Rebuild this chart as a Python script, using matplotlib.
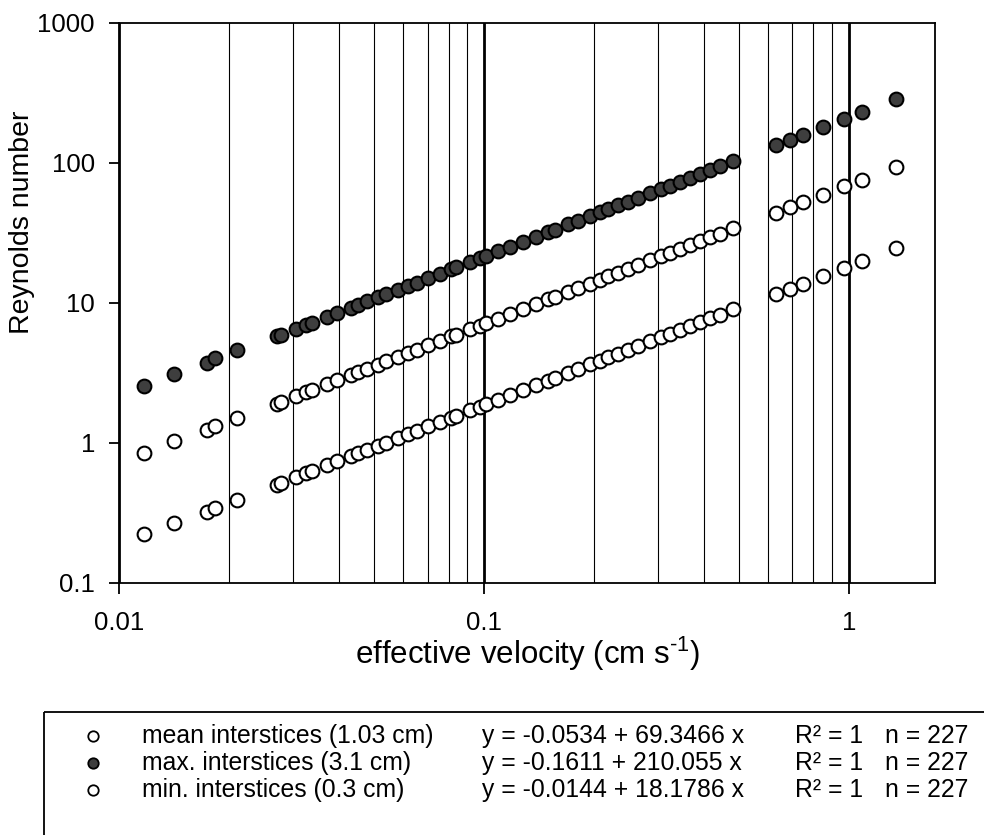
"""
Reynolds number vs effective velocity for three interstice sizes
(log-log scatter with the linear fits listed in a box under the axes).
"""

import matplotlib
matplotlib.use('Agg')
import matplotlib.pyplot as plt
from matplotlib.patches import Rectangle
from matplotlib.ticker import LogLocator, NullFormatter

plt.rcParams['font.family'] = ['Liberation Sans', 'DejaVu Sans']
plt.rcParams['mathtext.fontset'] = 'custom'
plt.rcParams['mathtext.rm'] = 'Liberation Sans'
plt.rcParams['mathtext.it'] = 'Liberation Sans:italic'

# ─── DATA ────────────────────────────────────────────────────────────────────
velocity = [0.0117, 0.0141, 0.0174, 0.0183, 0.0210,
            0.0270, 0.0277, 0.0306, 0.0326, 0.0337, 0.0370, 0.0396, 0.0433, 0.0452, 0.0478,
            0.0512, 0.0540, 0.0581, 0.0619, 0.0653, 0.0702, 0.0756, 0.0814, 0.0840, 0.0914,
            0.0973, 0.1011, 0.1092, 0.1180, 0.1279, 0.1392, 0.1497, 0.1562, 0.1699, 0.1809,
            0.1948, 0.2075, 0.2187, 0.2329, 0.2481, 0.2642, 0.2844, 0.3062, 0.3227, 0.3438,
            0.3661, 0.3899, 0.4153, 0.4423, 0.4811,
            0.630, 0.692, 0.751, 0.849, 0.973, 1.088, 1.343]

re_mean = [0.848, 1.03, 1.23, 1.32, 1.51,
           1.90, 1.95, 2.16, 2.30, 2.38, 2.61, 2.79, 3.05, 3.19, 3.37,
           3.61, 3.81, 4.10, 4.36, 4.60, 4.95, 5.33, 5.74, 5.92, 6.44,
           6.86, 7.13, 7.70, 8.32, 9.02, 9.81, 10.6, 11.0, 12.0, 12.8,
           13.7, 14.6, 15.4, 16.4, 17.5, 18.6, 20.1, 21.6, 22.8, 24.2,
           25.8, 27.5, 29.3, 31.2, 33.9,
           43.9, 48.2, 52.3, 59.2, 67.8, 75.8, 93.6]

re_max = [2.54, 3.10, 3.73, 4.01, 4.59,
          5.75, 5.90, 6.52, 6.94, 7.18, 7.88, 8.43, 9.22, 9.63, 10.2,
          10.9, 11.5, 12.4, 13.2, 13.9, 15.0, 16.1, 17.3, 17.9, 19.5,
          20.7, 21.5, 23.3, 25.1, 27.2, 29.6, 31.9, 33.3, 36.2, 38.5,
          41.5, 44.2, 46.6, 49.6, 52.8, 56.3, 60.6, 65.2, 68.7, 73.2,
          78.0, 83.0, 88.5, 94.2, 102.5,
          133, 146, 158, 179, 205, 230, 283]

re_min = [0.222, 0.268, 0.321, 0.343, 0.390,
          0.502, 0.515, 0.569, 0.606, 0.627, 0.688, 0.737, 0.805, 0.841, 0.889,
          0.952, 1.00, 1.08, 1.15, 1.21, 1.31, 1.41, 1.51, 1.56, 1.70,
          1.81, 1.88, 2.03, 2.19, 2.38, 2.59, 2.78, 2.91, 3.16, 3.36,
          3.62, 3.86, 4.07, 4.33, 4.61, 4.91, 5.29, 5.70, 6.00, 6.39,
          6.81, 7.25, 7.72, 8.23, 8.95,
          11.5, 12.6, 13.7, 15.5, 17.7, 19.8, 24.4]

x_ticks = [0.01, 0.1, 1]
x_tick_labels = ['0.01', '0.1', '1']
y_ticks = [0.1, 1, 10, 100, 1000]
y_tick_labels = ['0.1', '1', '10', '100', '1000']

series_names = ['mean interstices (1.03 cm)', 'max. interstices (3.1 cm)',
                'min. interstices (0.3 cm)']
series_fits = ['y = -0.0534 + 69.3466 x', 'y = -0.1611 + 210.055 x',
               'y = -0.0144 + 18.1786 x']
series_r2 = ['R² = 1', 'R² = 1', 'R² = 1']
series_n = ['n = 227', 'n = 227', 'n = 227']

GREY = '#3e3e3e'
face_colors = ['white', GREY, 'white']

# ─── FIGURE ──────────────────────────────────────────────────────────────────
W, H = 984, 835
fig = plt.figure(figsize=(W / 100, H / 100), dpi=100)
ax = fig.add_axes([119.3 / W, 1 - 582.7 / H, (934.7 - 119.3) / W, (582.7 - 22.7) / H])

marker_kw = dict(linestyle='none', marker='o', markersize=9.9,
                 markeredgecolor='black', markeredgewidth=1.5)
ax.plot(velocity, re_max, markerfacecolor=GREY, zorder=3, **marker_kw)
ax.plot(velocity, re_mean, markerfacecolor='white', zorder=3, **marker_kw)
ax.plot(velocity, re_min, markerfacecolor='white', zorder=3, **marker_kw)

ax.set_xscale('log')
ax.set_yscale('log')
ax.set_xlim(0.01, 1.72)
ax.set_ylim(0.1, 1000)

ax.set_xticks(x_ticks)
ax.set_xticklabels(x_tick_labels)
ax.set_yticks(y_ticks)
ax.set_yticklabels(y_tick_labels)
ax.xaxis.set_minor_locator(LogLocator(base=10, subs=range(2, 10)))
ax.xaxis.set_minor_formatter(NullFormatter())
ax.yaxis.set_minor_locator(plt.NullLocator())

ax.tick_params(axis='x', which='major', direction='out', length=8, width=1.3,
               labelsize=18.5, pad=12.5)
ax.tick_params(axis='y', which='major', direction='out', length=7, width=1.3,
               labelsize=18.5, pad=10.5)
ax.tick_params(axis='x', which='minor', length=0)

# vertical grid only: thin at 2..9, heavy at the decades
ax.grid(which='minor', axis='x', color='black', linewidth=0.8)
ax.grid(which='major', axis='x', color='black', linewidth=2.0)
ax.grid(which='both', axis='y', visible=False)
ax.set_axisbelow(True)
for sp in ax.spines.values():
    sp.set_linewidth(1.3)

# ─── LABELS & FIT BOX (pixel coordinates overlay) ───────────────────────────
ov = fig.add_axes([0, 0, 1, 1])
ov.set_xlim(0, W)
ov.set_ylim(H, 0)
ov.axis('off')

ov.text(528, 654, r'effective velocity (cm s$^{\text{-}1}$)', fontsize=22.5,
        ha='center', va='center')
ov.text(22, 222, 'Reynolds number', fontsize=20.5, rotation=90,
        ha='center', va='center')

ov.add_patch(Rectangle((44.3, 711.7), 1000, 200, fill=False,
                       edgecolor='black', linewidth=1.3, clip_on=False))

row_y = [736, 763, 790]
for i, yy in enumerate(row_y):
    ov.plot(93, yy, 'o', markersize=7.5, markerfacecolor=face_colors[i],
            markeredgecolor='black', markeredgewidth=1.3)
    ov.text(141.5, yy, series_names[i], fontsize=17.8, ha='left', va='center')
    ov.text(482, yy, series_fits[i], fontsize=17.8, ha='left', va='center')
    ov.text(795, yy, series_r2[i], fontsize=17.8, ha='left', va='center')
    ov.text(968, yy, series_n[i], fontsize=17.8, ha='right', va='center')

fig.savefig('out.png', dpi=100)
plt.close(fig)
